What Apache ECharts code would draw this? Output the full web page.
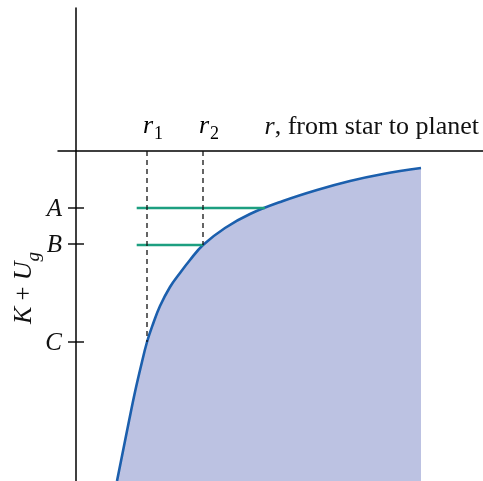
<!DOCTYPE html>
<html>
<head>
<meta charset="utf-8">
<script src="https://cdn.jsdelivr.net/npm/echarts@6/dist/echarts.min.js"></script>
<style>
  html, body { margin: 0; padding: 0; background: #fff; }
  #chart { width: 483px; height: 481px; }
</style>
</head>
<body>
<div id="chart"></div>
<script>
// curve K + U_g against r (arbitrary units, axes cross at 0,0)
const rValues = [4.1, 4.7, 5.3, 5.9, 6.5, 7.1, 7.7, 8.4, 9.4, 10.4, 11.4, 12.7, 14.9, 17.4, 20.7, 24.1, 27.4, 30.7, 34.5]
const energyValues = [-33.0, -30.0, -27.0, -24.1, -21.5, -19.1, -17.3, -15.5, -13.6, -12.2, -10.9, -9.4, -7.7, -6.3, -5.0, -3.9, -3.0, -2.3, -1.7]

// energy levels on the vertical axis
const levelNames = ['A', 'B', 'C']
const levelValues = [-5.7, -9.3, -19.1]

// radii marked on the horizontal axis
const radiusNames = ['1', '2']
const radiusValues = [7.1, 12.7]
const radiusEnergy = [-19.1, -9.4]

// green level lines: start r, end r, energy
const greenStart = 6.07
const greenEnd = [18.9, 12.7]
const greenLevel = [-5.7, -9.4]

const serif = '"Liberation Serif", "DejaVu Serif", serif'

let chart = echarts.init(document.getElementById('chart'))

let series = []

series.push({
    type: 'line',
    data: rValues.map((r, i) => [r, energyValues[i]]),
    smooth: 0.4,
    symbol: 'none',
    lineStyle: {color: '#1b5fad', width: 2.6},
    areaStyle: {color: '#bcc2e2', opacity: 1, origin: 'start'},
    z: 2
})

greenLevel.forEach((e, i) => {
    series.push({
        type: 'line',
        data: [[greenStart, e], [greenEnd[i], e]],
        symbol: 'none',
        lineStyle: {color: '#1d9f80', width: 2.6},
        z: 3
    })
})

radiusValues.forEach((r, i) => {
    series.push({
        type: 'line',
        data: [[r, 0], [r, radiusEnergy[i]]],
        symbol: 'none',
        lineStyle: {color: '#111', width: 1.3, type: [5, 4]},
        z: 4
    })
})

// ticks crossing the vertical axis, with their letters
series.push({
    type: 'custom',
    data: levelValues.map(v => [0, v]),
    clip: false,
    z: 5,
    renderItem: function (params, api) {
        let p = api.coord([api.value(0), api.value(1)])
        return {
            type: 'group',
            children: [{
                type: 'line',
                shape: {x1: p[0] - 8, y1: p[1], x2: p[0] + 8, y2: p[1]},
                style: {stroke: '#000', lineWidth: 1.4}
            }, {
                type: 'text',
                x: p[0] - 14,
                y: p[1] + 1,
                style: {
                    text: levelNames[params.dataIndex],
                    align: 'right',
                    verticalAlign: 'middle',
                    fontFamily: serif,
                    fontStyle: 'italic',
                    fontSize: 25,
                    fill: '#111'
                }
            }]
        }
    }
})

// r1, r2 above the horizontal axis
series.push({
    type: 'custom',
    data: radiusValues.map(v => [v, 0]),
    clip: false,
    z: 5,
    renderItem: function (params, api) {
        let p = api.coord([api.value(0), api.value(1)])
        return {
            type: 'text',
            x: p[0] - 4,
            y: p[1] - 12,
            style: {
                text: '{i|r}{s|' + radiusNames[params.dataIndex] + '}',
                align: 'left',
                verticalAlign: 'bottom',
                rich: {
                    i: {fontFamily: serif, fontStyle: 'italic', fontSize: 26, color: '#111'},
                    s: {fontFamily: serif, fontSize: 18, color: '#111', verticalAlign: 'bottom', padding: [0, 0, -4, 1]}
                }
            }
        }
    }
})

let option = {
    animation: false,
    grid: {left: 58, right: 0, top: 8, bottom: 0, containLabel: false},
    xAxis: {
        type: 'value',
        min: -1.8,
        max: 40.7,
        splitLine: {show: false},
        axisTick: {show: false},
        axisLabel: {show: false},
        axisLine: {onZero: true, lineStyle: {color: '#000', width: 1.5}},
        name: '{i|r}{n|, from star to planet}',
        nameLocation: 'end',
        nameGap: 0,
        nameTextStyle: {
            align: 'right',
            verticalAlign: 'bottom',
            padding: [0, 4, 11, 0],
            rich: {
                i: {fontFamily: serif, fontStyle: 'italic', fontSize: 26, color: '#111'},
                n: {fontFamily: serif, fontSize: 26, color: '#111'}
            }
        }
    },
    yAxis: {
        type: 'value',
        min: -33.0,
        max: 14.3,
        splitLine: {show: false},
        axisTick: {show: false},
        axisLabel: {show: false},
        axisLine: {onZero: true, lineStyle: {color: '#000', width: 1.5}}
    },
    graphic: [{
        type: 'text',
        x: 24,
        y: 288,
        rotation: Math.PI / 2,
        style: {
            text: '{i|K} + {i|U}{s|g}',
            align: 'center',
            verticalAlign: 'middle',
            fontFamily: serif,
            fontSize: 25,
            fill: '#111',
            rich: {
                i: {fontFamily: serif, fontStyle: 'italic', fontSize: 26, color: '#111'},
                s: {fontFamily: serif, fontStyle: 'italic', fontSize: 19, color: '#111', verticalAlign: 'bottom', padding: [0, 0, -6, 0]}
            }
        }
    }],
    series: series
}

chart.setOption(option)
</script>
</body>
</html>
